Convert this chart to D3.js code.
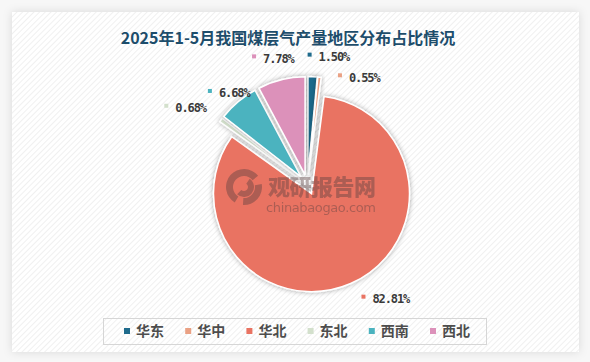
<!DOCTYPE html>
<html>
<head>
<meta charset="utf-8">
<script src="https://cdn.jsdelivr.net/npm/d3@7"></script>
<style>
  body { margin: 0; background: #f7f7f7; }
  svg { display: block; }
</style>
</head>
<body>
<div id="chart"></div>
<script>
const width = 590;
const height = 362;

// data
const title = "2025年1-5月我国煤层气产量地区分布占比情况";
const regions = ["华东", "华中", "华北", "东北", "西南", "西北"];
const shares = [1.50, 0.55, 82.81, 0.68, 6.68, 7.78];
const colors = ["#1f6b8c", "#eaa184", "#e97362", "#d3e0cc", "#4bb3bf", "#dc91ba"];

// layout
const cx = 307.5, cy = 184.5, radius = 98, explode = 10, labelRadius = 130;
// small moves of the labels so they do not collide (like the original chart)
const labelNudge = {
  "华东": [5, 2], "华中": [27, 22], "华北": [13, -5],
  "东北": [-28, 1], "西南": [-5, 8], "西北": [-13, 0]
};

const data = regions.map((name, i) => ({ name, value: shares[i], color: colors[i] }));

const svg = d3.select("#chart").append("svg")
  .attr("width", width)
  .attr("height", height);

const defs = svg.append("defs");

const hatch = defs.append("pattern")
  .attr("id", "hatch")
  .attr("patternUnits", "userSpaceOnUse")
  .attr("width", 4).attr("height", 4)
  .attr("patternTransform", "rotate(45)");
hatch.append("rect").attr("width", 4).attr("height", 4).attr("fill", "#ffffff");
hatch.append("line")
  .attr("x1", 0).attr("y1", 0).attr("x2", 0).attr("y2", 4)
  .attr("stroke", "#ededed").attr("stroke-width", 1.6);

const panelShadow = defs.append("filter").attr("id", "panelShadow")
  .attr("x", "-5%").attr("y", "-5%").attr("width", "110%").attr("height", "110%");
panelShadow.append("feDropShadow")
  .attr("dx", 0).attr("dy", 0).attr("stdDeviation", 5)
  .attr("flood-color", "#000").attr("flood-opacity", 0.12);

const sliceShadow = defs.append("filter").attr("id", "sliceShadow")
  .attr("x", "-30%").attr("y", "-30%").attr("width", "160%").attr("height", "160%");
sliceShadow.append("feDropShadow")
  .attr("dx", 0).attr("dy", 0).attr("stdDeviation", 2.5)
  .attr("flood-color", "#000").attr("flood-opacity", 0.35);

// panel
svg.append("rect")
  .attr("x", 12).attr("y", 12)
  .attr("width", 567).attr("height", 340)
  .attr("fill", "url(#hatch)")
  .attr("filter", "url(#panelShadow)");

// title
svg.append("text")
  .attr("x", 288).attr("y", 44)
  .attr("text-anchor", "middle")
  .attr("font-family", "'Noto Sans CJK SC', sans-serif")
  .attr("font-weight", 700)
  .attr("font-size", 16)
  .attr("fill", "#1d4d6b")
  .text(title);

// pie
const pie = d3.pie().sort(null).value(d => d.value);
const arc = d3.arc().innerRadius(0).outerRadius(radius);
const arcs = pie(data);
const mid = d => (d.startAngle + d.endAngle) / 2;

const pieG = svg.append("g").attr("transform", `translate(${cx},${cy})`);

pieG.selectAll("path")
  .data(arcs)
  .enter().append("path")
  .attr("transform", d => `translate(${Math.sin(mid(d)) * explode},${-Math.cos(mid(d)) * explode})`)
  .attr("d", arc)
  .attr("fill", d => d.data.color)
  .attr("stroke", "#ffffff")
  .attr("stroke-width", 1.5)
  .attr("filter", "url(#sliceShadow)");

// watermark
const wm = svg.append("g").attr("opacity", 0.42).attr("fill", "#5a4040");
const logoArc = d3.arc();
wm.append("path")
  .attr("transform", "translate(244,187)")
  .attr("d", logoArc({ innerRadius: 11, outerRadius: 18, startAngle: -2.6, endAngle: 0.9 }));
wm.append("path")
  .attr("transform", "translate(244,187)")
  .attr("d", logoArc({ innerRadius: 4, outerRadius: 10, startAngle: 0.6, endAngle: 3.9 }));
wm.append("path")
  .attr("transform", "translate(244,187)")
  .attr("d", logoArc({ innerRadius: 11, outerRadius: 18, startAngle: 1.4, endAngle: 3.2 }));
wm.append("text")
  .attr("x", 268).attr("y", 195)
  .attr("font-family", "'Noto Sans CJK SC', sans-serif")
  .attr("font-weight", 900)
  .attr("font-size", 22)
  .attr("textLength", 108)
  .text("观研报告网");
wm.append("text")
  .attr("x", 266).attr("y", 212)
  .attr("font-family", "'DejaVu Sans', sans-serif")
  .attr("font-size", 13)
  .attr("textLength", 110)
  .text("chinabaogao.com");

// labels
const labels = svg.selectAll(".label")
  .data(arcs)
  .enter().append("g")
  .attr("class", "label")
  .attr("transform", d => {
    const n = labelNudge[d.data.name];
    const x = cx + Math.sin(mid(d)) * labelRadius + n[0];
    const y = cy - Math.cos(mid(d)) * labelRadius + n[1];
    return `translate(${x},${y})`;
  });

labels.append("rect")
  .attr("x", -11).attr("y", -4)
  .attr("width", 4).attr("height", 4)
  .attr("fill", d => d.data.color);

labels.append("text")
  .attr("y", 4.5)
  .attr("font-family", "'DejaVu Sans Mono', monospace")
  .attr("font-weight", 700)
  .attr("font-size", 12)
  .attr("letter-spacing", -1.1)
  .attr("fill", "#3a3a3a")
  .text(d => d.data.value.toFixed(2) + "%");

// legend
svg.append("rect")
  .attr("x", 103.5).attr("y", 318.5)
  .attr("width", 383).attr("height", 26)
  .attr("fill", "none")
  .attr("stroke", "#d6d6d6")
  .attr("stroke-width", 1);

const legendX = d3.scaleBand()
  .domain(regions)
  .range([124, 124 + 61.2 * regions.length]);

const legend = svg.selectAll(".legend")
  .data(data)
  .enter().append("g")
  .attr("class", "legend")
  .attr("transform", d => `translate(${legendX(d.name)},331)`);

legend.append("rect")
  .attr("x", 0).attr("y", -3)
  .attr("width", 6).attr("height", 6)
  .attr("fill", d => d.color);

legend.append("text")
  .attr("x", 12).attr("y", 5)
  .attr("font-family", "'Noto Sans CJK SC', sans-serif")
  .attr("font-weight", 700)
  .attr("font-size", 14)
  .attr("fill", "#4d4d4d")
  .text(d => d.name);
</script>
</body>
</html>
